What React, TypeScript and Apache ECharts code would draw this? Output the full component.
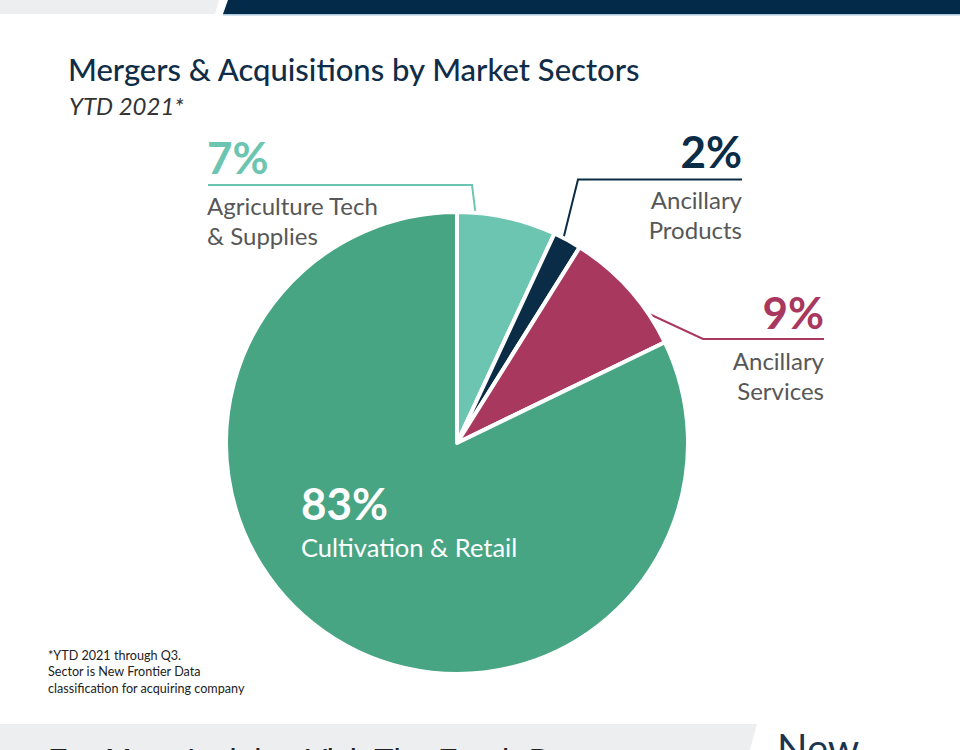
import React, { useEffect, useRef } from 'react';
import * as echarts from 'echarts';

// ---- data ----
const sectors = ['Agriculture Tech\n& Supplies', 'Ancillary\nProducts', 'Ancillary\nServices', 'Cultivation & Retail'];
const shares = [7, 2, 9, 83];
const sliceColors = ['#6cc5b0', '#0b2c47', '#a9385f', '#47a584'];
const pctColors = ['#6cc5b0', '#0b2c47', '#a9385f', '#ffffff'];
const nameColors = ['#575757', '#575757', '#575757', '#ffffff'];
const nameSizes = [24, 24, 24, 25.5];
const titleText = 'Mergers & Acquisitions by Market Sectors';
const subtitleText = 'YTD 2021*';
const footnoteLines = ['*YTD 2021 through Q3.', 'Sector is New Frontier Data', 'classification for acquiring company'];
const bottomBannerText = 'For More Insights Visit The Fresh Data';
const logoText = 'New';

// ---- label layout (positions only) ----
const labelPlacement: any[] = [
  { x: 207, y: 134, align: 'left', line: [[476, 217], [472, 185], [208, 185]] },
  { x: 742, y: 128, align: 'right', line: [[563, 240], [578, 179.5], [742, 179.5]] },
  { x: 824, y: 289, align: 'right', line: [[645, 312], [703, 339], [824, 339]] },
  { x: 301, y: 480, align: 'left', line: null },
];

const FONT = 'Lato, "Open Sans", sans-serif';

export default function App() {
  const ref = useRef<HTMLDivElement>(null);
  useEffect(() => {
    if (!ref.current) return;
    const chart = echarts.init(ref.current, null, { renderer: 'svg' });

    const rich: any = {
      s: { fontSize: 2, lineHeight: 10 },
      t: { fontSize: 2, lineHeight: 6 },
    };
    shares.forEach((_, i) => {
      rich['p' + i] = { fontFamily: FONT, fontSize: 44, fontWeight: 'bold', lineHeight: 46, color: pctColors[i] };
      rich['n' + i] = { fontFamily: FONT, fontSize: nameSizes[i], lineHeight: 30, color: nameColors[i] };
    });

    const data = shares.map((v, i) => ({
      value: v,
      name: sectors[i],
      itemStyle: { color: sliceColors[i] },
      label: { position: i === 3 ? 'inside' : 'outside', align: labelPlacement[i].align },
      labelLine: { show: i !== 3, lineStyle: { color: sliceColors[i], width: 2 } },
    }));

    chart.setOption({
      animation: false,
      backgroundColor: '#ffffff',
      graphic: [
        { type: 'polygon', shape: { points: [[0, 0], [219, 0], [215, 14], [0, 14]] }, style: { fill: '#eceef0' }, silent: true },
        { type: 'polygon', shape: { points: [[228, 0], [960, 0], [960, 14], [223, 14]] }, style: { fill: '#032b49' }, silent: true },
        { type: 'rect', shape: { x: 223, y: 14, width: 737, height: 1.5 }, style: { fill: '#a9c8dc' }, silent: true },
        { type: 'polygon', shape: { points: [[0, 724], [757, 724], [750, 750], [0, 750]] }, style: { fill: '#eceef0' }, silent: true },
        {
          type: 'text', left: 68, top: 53,
          style: { text: titleText, font: `500 31px ${FONT}`, fill: '#0f2d48' },
        },
        {
          type: 'text', left: 69, top: 93,
          style: { text: subtitleText, font: `italic 24px ${FONT}`, fill: '#333333' },
        },
        {
          type: 'text', left: 48, top: 647,
          style: { text: footnoteLines.join('\n'), font: `12.6px ${FONT}`, lineHeight: 16.5, fill: '#222222' },
        },
        {
          type: 'text', x: 48, y: 744,
          style: { text: bottomBannerText, font: '32px "Liberation Sans", Arial, sans-serif', fill: '#222222', verticalAlign: 'top' },
        },
        {
          type: 'text', x: 777, y: 728,
          style: { text: logoText, font: `40px ${FONT}`, fill: '#1b3550', verticalAlign: 'top' },
        },
      ],
      series: [
        {
          type: 'pie',
          silent: true,
          center: [457, 443],
          radius: 231,
          startAngle: 90,
          clockwise: true,
          avoidLabelOverlap: false,
          itemStyle: { borderColor: '#ffffff', borderWidth: 4 },
          label: {
            show: true,
            rich,
            formatter: (p: any) => {
              const i = p.dataIndex;
              const sp = i === 3 ? 't' : 's';
              return `{p${i}|${shares[i]}%}\n{${sp}| }\n{n${i}|${sectors[i]}}`;
            },
          },
          labelLine: { show: true, length: 20, length2: 40 },
          labelLayout: (params: any) => {
            const L = labelPlacement[params.dataIndex];
            const out: any = { x: L.x, y: L.y, align: L.align, verticalAlign: 'top' };
            if (L.line) out.labelLinePoints = L.line;
            return out;
          },
          data,
        },
      ],
    });
    return () => chart.dispose();
  }, []);
  return <div ref={ref} style={{ position: 'absolute', left: 0, top: 0, width: 960, height: 750 }} />;
}
